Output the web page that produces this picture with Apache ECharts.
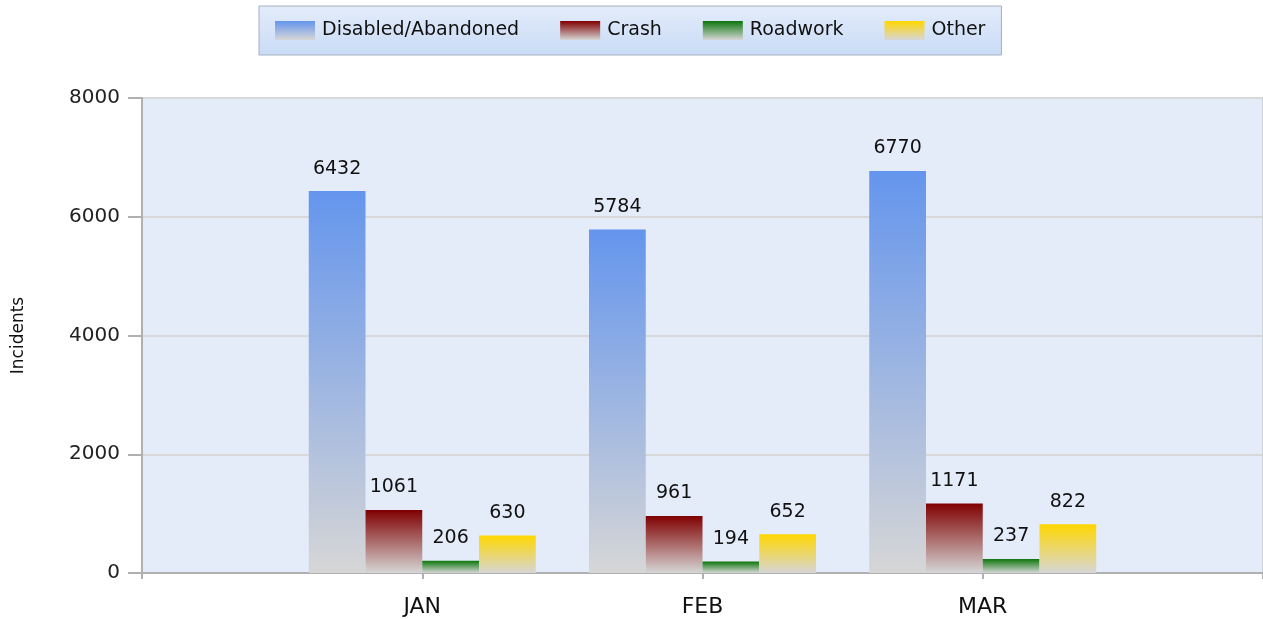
<!DOCTYPE html>
<html>
<head>
<meta charset="utf-8">
<script src="https://cdn.jsdelivr.net/npm/echarts@6/dist/echarts.min.js"></script>
<style>
    html, body { margin: 0; padding: 0; background: #fff; }
    #chart { width: 1263px; height: 619px; }
</style>
</head>
<body>
<div id="chart"></div>
<script>
// empty slots at both ends so the months sit on inner ticks
var months = ['', 'JAN', 'FEB', 'MAR', ''];
var disabled = ['-', 6432, 5784, 6770, '-'];
var crash = ['-', 1061, 961, 1171, '-'];
var roadwork = ['-', 206, 194, 237, '-'];
var other = ['-', 630, 652, 822, '-'];
var yTicks = [0, 2000, 4000, 6000, 8000];

var FONT = 'DejaVu Sans';

function fade(top) {
    return new echarts.graphic.LinearGradient(0, 0, 0, 1, [
        { offset: 0, color: top },
        { offset: 1, color: '#d6d6d6' }
    ]);
}

function barSeries(name, data, top) {
    return {
        name: name,
        type: 'bar',
        data: data,
        barGap: '0%',
        barCategoryGap: '19%',
        itemStyle: { color: fade(top) },
        label: {
            show: true,
            position: 'top',
            distance: 13,
            color: '#111',
            fontFamily: FONT,
            fontSize: 19
        }
    };
}

var chartDom = document.getElementById('chart');
var myChart = echarts.init(chartDom);
var option = {
    animation: false,
    legend: {
        left: 259,
        top: 6,
        padding: [15, 16, 15, 16],
        itemGap: 41,
        itemWidth: 40,
        itemHeight: 19,
        icon: 'rect',
        borderColor: '#a7b0c0',
        borderWidth: 1,
        backgroundColor: new echarts.graphic.LinearGradient(0, 0, 0, 1, [
            { offset: 0, color: '#e3ecfa' },
            { offset: 1, color: '#c9dbf6' }
        ]),
        textStyle: { fontFamily: FONT, fontSize: 19, color: '#111', padding: [4, 0, 0, 2] },
        data: ['Disabled/Abandoned', 'Crash', 'Roadwork', 'Other']
    },
    grid: {
        left: 142,
        right: 0,
        top: 98,
        bottom: 46,
        outerBoundsMode: 'none',
        show: true,
        backgroundColor: '#e5ecf9',
        borderColor: '#b8b8b8',
        borderWidth: 1
    },
    xAxis: {
        type: 'category',
        data: months,
        boundaryGap: false,
        axisLine: { lineStyle: { color: '#b0b0b0', width: 2 } },
        axisTick: { show: true, length: 6, lineStyle: { color: '#b0b0b0', width: 2 } },
        axisLabel: { margin: 23, color: '#111', fontFamily: FONT, fontSize: 22 },
        splitLine: { show: false }
    },
    yAxis: {
        type: 'value',
        min: yTicks[0],
        max: yTicks[yTicks.length - 1],
        interval: 2000,
        name: 'Incidents',
        nameLocation: 'middle',
        nameGap: 115,
        nameTextStyle: { fontFamily: FONT, fontSize: 17, color: '#111' },
        axisLine: { show: true, lineStyle: { color: '#b0b0b0', width: 2 } },
        axisTick: { show: true, length: 14, lineStyle: { color: '#b0b0b0', width: 2 } },
        axisLabel: {
            margin: 22, color: '#222', fontFamily: FONT, fontSize: 20,
            formatter: function (v) { return String(v); }
        },
        splitLine: { lineStyle: { color: '#d8d8d8', width: 2 } }
    },
    series: [
        barSeries('Disabled/Abandoned', disabled, '#6495ed'),
        barSeries('Crash', crash, '#800000'),
        barSeries('Roadwork', roadwork, '#0d760d'),
        barSeries('Other', other, '#ffd700')
    ]
};
myChart.setOption(option);
</script>
</body>
</html>
